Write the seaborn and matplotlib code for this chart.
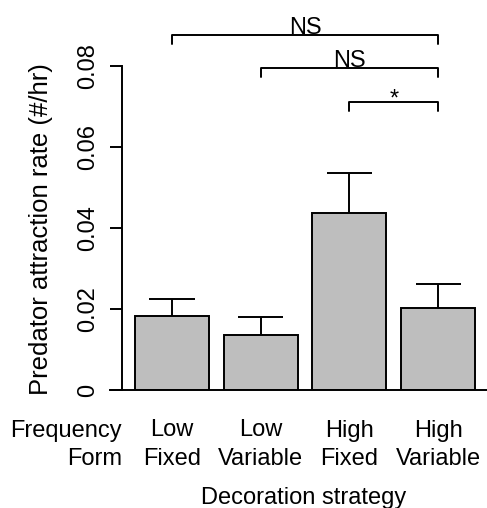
import numpy as np
import pandas as pd
import matplotlib
matplotlib.use("Agg")
import matplotlib.pyplot as plt
import seaborn as sns

# ── Data ─────────────────────────────────────────────────────────────────────
frequency = ['Low', 'Low', 'High', 'High']
form = ['Fixed', 'Variable', 'Fixed', 'Variable']
rate = [0.0182, 0.0137, 0.0436, 0.0202]
rate_se = [0.0043, 0.0043, 0.0100, 0.0060]

# pairwise comparisons: (bar a, bar b, label)
comparisons = [(0, 3, 'NS'), (1, 3, 'NS'), (2, 3, '*')]
bracket_y = [0.0877, 0.0794, 0.0712]

yticks = [0, 0.02, 0.04, 0.06, 0.08]
ytick_labels = ['0', '0.02', '0.04', '0.06', '0.08']

sns.set_style('white')
plt.rcParams['font.family'] = ['Liberation Sans', 'DejaVu Sans']
plt.rcParams.update({
    'font.size': 17,
    'text.color': 'black',
    'axes.labelcolor': 'black',
    'xtick.color': 'black',
    'ytick.color': 'black',
    'axes.edgecolor': 'black',
})

df = pd.DataFrame({
    'strategy': [f'{a} {b}' for a, b in zip(frequency, form)],
    'rate': rate,
    'se': rate_se,
})

W, H = 487, 508
fig = plt.figure(figsize=(W / 100, H / 100), dpi=100)
# axes in pixel terms: left edge 110, baseline at 390, top at 10
ax = fig.add_axes([110 / W, (H - 390) / H, (W - 110) / W, 380 / H])

sns.barplot(data=df, x='strategy', y='rate', ax=ax, color='#bebebe',
            saturation=1, edgecolor='black', linewidth=1.4, width=0.833,
            errorbar=None, zorder=2)

px = 88.7  # pixels per bar unit
py = 4050  # pixels per y unit
ax.set_xlim((110 - 172) / px, (W - 172) / px)
ax.set_ylim(0, 380 / py)

x = np.arange(len(df))
cap = 0.254
ax.vlines(x, df['rate'], df['rate'] + df['se'], color='black', lw=1.4, zorder=3)
ax.hlines(df['rate'] + df['se'], x - cap, x + cap, color='black', lw=1.4, zorder=3)

# axes styling (R base look)
for s in ['top', 'right']:
    ax.spines[s].set_visible(False)
y_axis_x = (122 - 172) / px
ax.spines['left'].set_position(('data', y_axis_x))
ax.spines['left'].set_bounds(0, 0.08)
ax.spines['left'].set_linewidth(1.4)
ax.spines['bottom'].set_linewidth(1.4)
ax.spines['bottom'].set_zorder(4)
ax.set_yticks(yticks)
ax.set_yticklabels(ytick_labels, rotation=90, va='center', fontsize=17)
ax.tick_params(axis='y', direction='out', length=8.6, width=1.4, pad=8, left=True)
ax.set_xticks([])
ax.set_xlabel('')
ax.set_ylabel('')

# significance brackets
drop = 0.0022
for (a, b, lab), yb in zip(comparisons, bracket_y):
    ax.plot([a, a, b, b], [yb - drop, yb, yb, yb - drop], color='black',
            lw=1.4, clip_on=False)
    if lab == '*':
        ax.text((a + b) / 2, yb - 0.0009, lab, ha='center', va='baseline')
    else:
        ax.text((a + b) / 2, yb + 0.0003, lab, ha='center', va='baseline')

# category labels below the bars
row1 = (390 - 436.5) / py
row2 = (390 - 465) / py
ax.text(y_axis_x, row1, 'Frequency', ha='right', va='baseline')
ax.text(y_axis_x, row2, 'Form', ha='right', va='baseline')
for i in x:
    ax.text(i, row1, frequency[i], ha='center', va='baseline')
    ax.text(i, row2, form[i], ha='center', va='baseline')
ax.text(1.48, (390 - 504) / py, 'Decoration strategy', ha='center', va='baseline')

fig.text(41 / W, (H - 229) / H, 'Predator attraction rate (#/hr)',
         rotation=90, ha='center', va='center', fontsize=18.5)

fig.savefig('out.png', dpi=100)
